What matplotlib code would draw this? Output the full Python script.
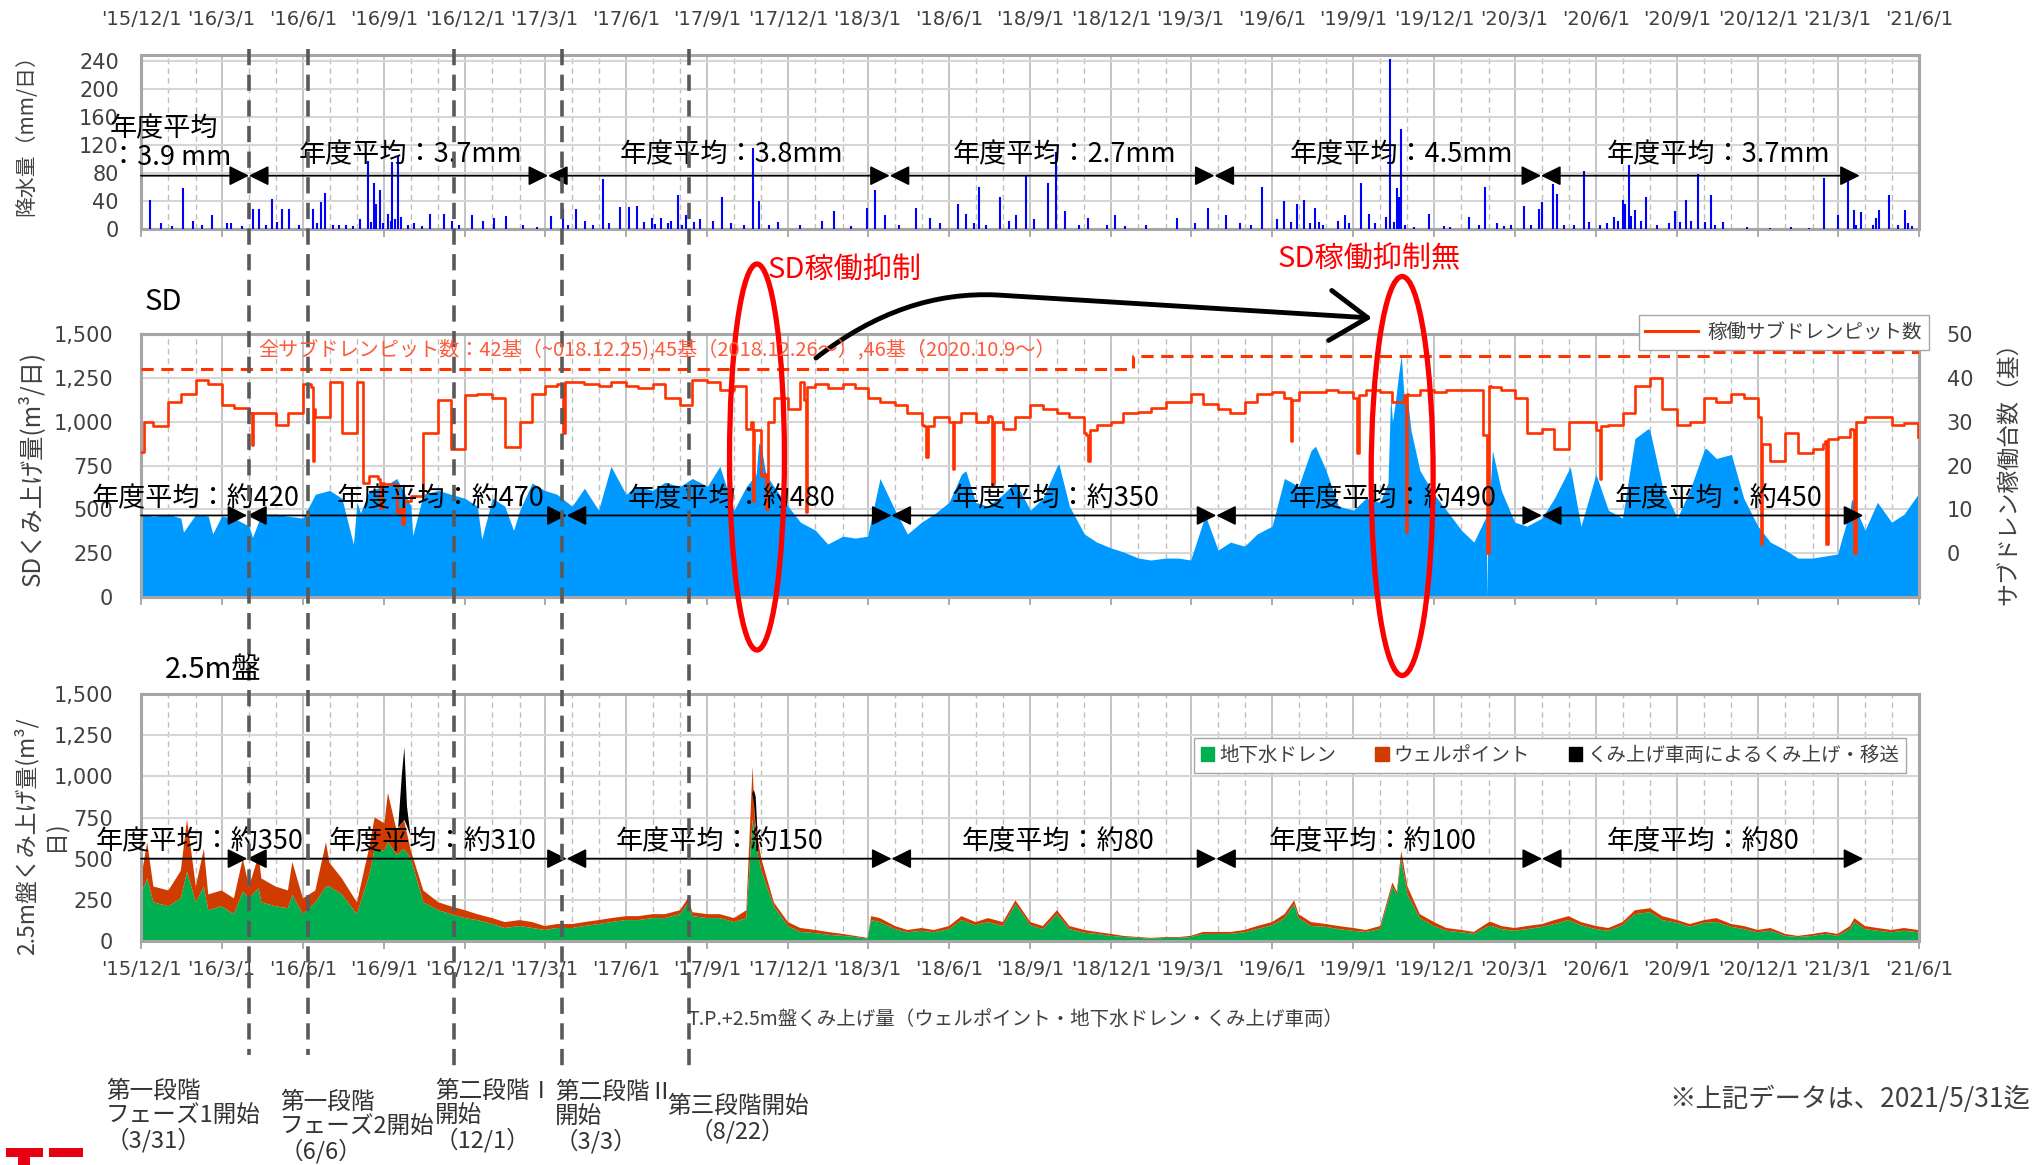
import numpy as np
import pandas as pd
import matplotlib
matplotlib.use("Agg")
import matplotlib.pyplot as plt
import matplotlib.dates as mdates
import matplotlib.transforms as mtransforms
from matplotlib.patches import Ellipse, FancyArrowPatch, Rectangle, Patch
from matplotlib.lines import Line2D
from matplotlib.path import Path
from matplotlib import font_manager

JP = ['Noto Sans CJK JP', 'DejaVu Sans']
plt.rcParams['font.family'] = JP
_names = {f.name for f in font_manager.fontManager.ttflist}
if 'Liberation Sans Narrow' in _names:
    NARROW = ['Liberation Sans Narrow', 'DejaVu Sans']; NSIZE = 19; YNSIZE = 20
else:
    NARROW = ['DejaVu Sans']; NSIZE = 14; YNSIZE = 15

# ============================ DATA ============================
X_START, X_END = '2015-12-01', '2021-06-01'
date_labels = ["'15/12/1", "'16/3/1", "'16/6/1", "'16/9/1", "'16/12/1", "'17/3/1",
               "'17/6/1", "'17/9/1", "'17/12/1", "'18/3/1", "'18/6/1", "'18/9/1",
               "'18/12/1", "'19/3/1", "'19/6/1", "'19/9/1", "'19/12/1", "'20/3/1",
               "'20/6/1", "'20/9/1", "'20/12/1", "'21/3/1", "'21/6/1"]
tick_dates = pd.date_range(X_START, X_END, freq='3MS')

# semi-monthly reading dates (1st and 15th) + last day of data
half = pd.date_range('2015-12-01', '2021-05-15', freq='SMS').append(
    pd.DatetimeIndex([pd.Timestamp('2021-05-31')]))

# ---- daily rainfall (mm/day), notable days ----
rain_dates = ['2015-12-11', '2015-12-24', '2016-01-05', '2016-01-17', '2016-01-29', '2016-02-08', '2016-02-19',
              '2016-03-07', '2016-03-12', '2016-03-24', '2016-04-06', '2016-04-12', '2016-04-20', '2016-04-27',
              '2016-05-03', '2016-05-08', '2016-05-16', '2016-05-27', '2016-06-12', '2016-06-17', '2016-06-21',
              '2016-06-26', '2016-07-05', '2016-07-12', '2016-07-20', '2016-07-28', '2016-08-05', '2016-08-13',
              '2016-08-17', '2016-08-20', '2016-08-23', '2016-08-27', '2016-08-31', '2016-09-05', '2016-09-08',
              '2016-09-10', '2016-09-13', '2016-09-16', '2016-09-20', '2016-09-28', '2016-10-04', '2016-10-13',
              '2016-10-23', '2016-11-07', '2016-11-16', '2016-11-24', '2016-12-09', '2016-12-21', '2017-01-03',
              '2017-01-16', '2017-02-05', '2017-02-20', '2017-03-08', '2017-03-22', '2017-03-27', '2017-04-06',
              '2017-04-16', '2017-04-25', '2017-05-06', '2017-05-13', '2017-05-25', '2017-06-04', '2017-06-14',
              '2017-06-21', '2017-06-30', '2017-07-04', '2017-07-10', '2017-07-18', '2017-07-22', '2017-07-30',
              '2017-08-03', '2017-08-08', '2017-08-17', '2017-08-24', '2017-09-07', '2017-09-18', '2017-09-28',
              '2017-10-12', '2017-10-22', '2017-10-29', '2017-11-10', '2017-11-20', '2017-12-15', '2018-01-08',
              '2018-01-22', '2018-02-10', '2018-02-28', '2018-03-09', '2018-03-21', '2018-04-05', '2018-04-25',
              '2018-05-10', '2018-05-22', '2018-06-11', '2018-06-20', '2018-06-29', '2018-07-05', '2018-07-13',
              '2018-07-29', '2018-08-08', '2018-08-16', '2018-08-27', '2018-09-05', '2018-09-21', '2018-09-30',
              '2018-10-10', '2018-10-26', '2018-11-05', '2018-11-26', '2018-12-05', '2018-12-17', '2019-01-10',
              '2019-02-14', '2019-03-06', '2019-03-21', '2019-04-10', '2019-04-26', '2019-05-08', '2019-05-21',
              '2019-06-07', '2019-06-15', '2019-06-22', '2019-06-29', '2019-07-07', '2019-07-14', '2019-07-19',
              '2019-07-24', '2019-07-29', '2019-08-15', '2019-08-22', '2019-08-27', '2019-09-10', '2019-09-18',
              '2019-09-25', '2019-10-08', '2019-10-12', '2019-10-17', '2019-10-20', '2019-10-23', '2019-10-25',
              '2019-10-29', '2019-11-08', '2019-11-25', '2019-12-12', '2019-12-19', '2020-01-09', '2020-01-21',
              '2020-01-28', '2020-02-10', '2020-02-18', '2020-02-26', '2020-03-12', '2020-03-20', '2020-03-29',
              '2020-04-01', '2020-04-13', '2020-04-18', '2020-04-26', '2020-05-07', '2020-05-19', '2020-05-24',
              '2020-06-05', '2020-06-14', '2020-06-21', '2020-06-26', '2020-07-01', '2020-07-04', '2020-07-08',
              '2020-07-11', '2020-07-15', '2020-07-22', '2020-07-27', '2020-08-09', '2020-08-22', '2020-08-29',
              '2020-09-04', '2020-09-11', '2020-09-16', '2020-09-24', '2020-10-02', '2020-10-09', '2020-10-14',
              '2020-10-23', '2020-11-19', '2020-12-15', '2021-01-07', '2021-01-28', '2021-02-14', '2021-03-01',
              '2021-03-13', '2021-03-19', '2021-03-22', '2021-03-27', '2021-04-10', '2021-04-13', '2021-04-17',
              '2021-04-28', '2021-05-08', '2021-05-16', '2021-05-20', '2021-05-24']
rain_mm = [42, 8, 4, 59, 12, 5, 20,
           8, 8, 4, 29, 29, 6, 43,
           10, 29, 29, 5, 28, 8, 39,
           52, 6, 6, 5, 4, 14, 97,
           10, 66, 36, 55, 8, 22, 12,
           95, 14, 104, 17, 6, 8, 4,
           22, 22, 12, 5, 20, 12, 15,
           18, 5, 3, 18, 28, 6, 28,
           12, 5, 71, 8, 32, 31, 33,
           10, 16, 7, 15, 9, 12, 48,
           6, 20, 10, 14, 12, 45, 8,
           6, 115, 40, 6, 10, 5, 12,
           25, 4, 30, 55, 20, 6, 30,
           15, 8, 35, 22, 8, 60, 6,
           45, 12, 20, 75, 14, 65, 110,
           25, 6, 15, 5, 20, 4, 5,
           15, 8, 30, 20, 8, 6, 60,
           14, 40, 10, 35, 41, 8, 30,
           10, 6, 12, 20, 8, 66, 22,
           8, 17, 242, 10, 58, 45, 142,
           6, 3, 22, 4, 3, 17, 6,
           60, 8, 4, 6, 33, 5, 28,
           39, 64, 50, 5, 6, 82, 10,
           6, 8, 17, 12, 41, 35, 91,
           18, 27, 12, 46, 5, 8, 26,
           10, 41, 12, 79, 10, 48, 6,
           10, 3, 2, 3, 2, 72, 20,
           82, 27, 6, 24, 5, 15, 27,
           48, 6, 27, 8, 4]

# ---- SD pumped volume (m3/day), semi-monthly readings ----
sd_base = [472, 461,   472, 450,   472, 461,   461, 450,   404, 472,   472, 461,   # Dec15-May16
           450, 586,   608, 563,   540, 608,   631, 676,   518, 586,   608, 586,   # Jun16-Nov16
           563, 518,   563, 518,   495, 650,   608, 586,   518, 620,   495, 745,   # Dec16-May17
           586, 631,   608, 654,   631, 676,   631, 745,   495, 630,   850, 631,   # Jun17-Nov17
           518, 427,   381, 302,   347, 336,   347, 676,   495, 359,   427, 472,   # Dec17-May18
           540, 700,   540, 518,   586, 654,   495, 563,   745, 518,   359, 313,   # Jun18-Nov18
           280, 257,   222, 211,   222, 222,   211, 427,   268, 313,   290, 359,   # Dec18-May19
           404, 676,   631, 835,   722, 518,   495, 563,   540, 1000,  1130, 722,  # Jun19-Nov19
           586, 495,   381, 313,   495, 608,   427, 404,   450, 563,   722, 404,   # Dec19-May20
           700, 495,   450, 904,   949, 631,   450, 608,   835, 790,   813, 563,   # Jun20-Nov20
           404, 313,   268, 222,   222, 234,   245, 495,   381, 540,   427, 472,   # Dec20-May21
           586]
sd_ex_dates = ['2016-01-18', '2016-02-20', '2016-04-05', '2016-07-28', '2016-08-05', '2016-10-03',
               '2016-12-20', '2017-01-25', '2017-10-26', '2017-10-29', '2017-11-06', '2018-06-20',
               '2018-10-03', '2019-03-18', '2019-07-20', '2019-10-10', '2019-10-13', '2019-10-18',
               '2019-10-22', '2019-10-25', '2019-10-28', '2019-11-05', '2020-01-29', '2020-01-30',
               '2020-01-31', '2020-02-05', '2020-05-03', '2020-07-30', '2020-10-03', '2021-03-17']
sd_ex_vals = [370, 360, 340, 300, 480, 350,
              330, 380, 700, 880, 700, 720,
              760, 460, 860, 650, 1150, 1100,
              1270, 1380, 1150, 950, 460, 0,
              460, 835, 740, 960, 850, 560]

# ---- operating sub-drain pits (count), semi-monthly readings ----
pit_base = [23, 29,   34.6, 36.4, 39.5, 38.6, 33.7, 33.2, 31.9, 31.9, 29.2, 31.9,   # Dec15-May16
            38.6, 31, 39.1, 27.4, 39.1, 17.5, 15.7, 9.4, 13, 27.4, 35, 23.8,       # Jun16-Nov16
            36, 36.4, 35.5, 24.2, 30, 36.4, 38.2, 38.6, 39, 38.6, 38.2, 39,        # Dec16-May17
            38.2, 37.7, 38.6, 35.5, 33.7, 39.5, 39, 37.3, 38.2, 28.3, 17.5, 35.5,  # Jun17-Nov17
            32.8, 39, 38.6, 37.7, 38.6, 37.7, 35.5, 34.6, 33.7, 31.9, 29.2, 31,    # Dec17-May18
            30, 31.9, 30, 31.4, 28.3, 31, 33.7, 32.8, 31.9, 31, 27.4, 29.2,        # Jun18-Nov18
            30, 31.9, 32.3, 33.2, 34.6, 34.6, 36.4, 34.1, 32.8, 31.9, 34.6, 36.4,  # Dec18-May19
            36.8, 35.5, 36.8, 36.8, 37.3, 36.8, 35.5, 37.3, 36.8, 34.6, 36.4, 37.3,  # Jun19-Nov19
            36.8, 37.3, 37.3, 37.3, 38.2, 37.3, 35.5, 27.4, 28.3, 23.8, 30, 30,    # Dec19-May20
            28, 29.2, 31.9, 38.2, 40, 32.8, 29.2, 30, 35.5, 34.6, 36.4, 35.5,      # Jun20-Nov20
            31, 21, 27.4, 22.9, 23.8, 25.6, 26.5, 28.3, 31, 31, 29.2, 29.7,        # Dec20-May21
            26.5]
pit_ex_dates = ['2015-12-04', '2016-04-03', '2016-04-04', '2016-04-06', '2016-06-10', '2016-06-12',
                '2016-06-13', '2016-08-04', '2016-08-08', '2016-08-25', '2016-08-27', '2016-08-29',
                '2016-09-19', '2016-09-21', '2016-09-23', '2017-03-20', '2017-03-22', '2017-03-24',
                '2017-10-20', '2017-10-22', '2017-10-24', '2017-11-04', '2017-11-06', '2017-11-08',
                '2017-12-19', '2017-12-21', '2017-12-23', '2018-05-04', '2018-05-06', '2018-05-08',
                '2018-06-03', '2018-06-05', '2018-06-07', '2018-07-18', '2018-07-20', '2018-07-22',
                '2018-11-03', '2018-11-05', '2018-11-07', '2019-06-20', '2019-06-22', '2019-06-24',
                '2019-09-03', '2019-09-05', '2019-09-07', '2019-10-28', '2019-10-30', '2019-11-02',
                '2020-01-25', '2020-01-30', '2020-02-03', '2020-06-03', '2020-06-05', '2020-06-07',
                '2020-12-02', '2020-12-04', '2020-12-06', '2021-02-13', '2021-02-16', '2021-02-18',
                '2021-03-18', '2021-03-20', '2021-03-22']
pit_ex_vals = [30, 32, 24.7, 32, 38, 21,
               33, 39, 16, 17, 10.3, 16,
               10, 6.7, 12, 38.6, 27.4, 39,
               30, 12, 28, 18, 10, 30,
               35, 9.4, 38, 29, 22, 29,
               30, 19.3, 30, 31, 15.7, 30,
               27, 21, 28, 35.5, 25.6, 35,
               35.5, 22.9, 36, 36, 4.9, 36,
               27, 0, 38, 28, 17, 29,
               31, 2.2, 25, 25, 2.2, 26,
               28, 0, 30]
pit_total_dates = ['2015-12-01', '2018-12-26', '2020-10-09', '2021-06-01']
pit_total = [42, 45, 46, 46]

# ---- T.P.+2.5m pumping (m3/day), semi-monthly readings ----
drain_base = [283, 235, 211, 259, 235, 187, 211, 163, 259, 235, 211, 199,   # Dec15-May16
              163, 235, 331, 283, 163, 403, 547, 523, 499, 235, 187, 163,   # Jun16-Nov16
              139, 127, 103, 79, 91, 79, 67, 79, 79, 91, 103, 115,          # Dec16-May17
              127, 127, 139, 139, 163, 151, 139, 139, 115, 139, 427, 211,   # Jun17-Nov17
              91, 55, 48, 38, 31, 24, 14, 115, 72, 53, 62, 53,              # Dec17-May18
              72, 127, 96, 115, 91, 223, 96, 72, 163, 72, 50, 43,           # Jun18-Nov18
              31, 24, 19, 14, 19, 19, 24, 43, 43, 43, 53, 72,               # Dec18-May19
              96, 139, 139, 91, 86, 72, 62, 55, 72, 331, 283, 139,          # Jun19-Nov19
              91, 62, 53, 43, 91, 72, 62, 72, 86, 103, 127, 96,             # Dec19-May20
              72, 62, 96, 163, 175, 127, 110, 86, 110, 115, 86, 72,         # Jun20-Nov20
              53, 62, 31, 24, 31, 43, 31, 72, 72, 62, 53, 62,               # Dec20-May21
              53]
well_base = [97, 96, 96, 168, 96, 96, 96, 96, 72, 145, 120, 108,          # Dec15-May16
             96, 72, 144, 97, 72, 168, 168, 144, 48, 72, 48, 48,          # Jun16-Nov16
             48, 36, 36, 36, 36, 36, 24, 24, 24, 24, 24, 24,              # Dec16-May17
             24, 24, 24, 24, 24, 24, 24, 24, 24, 48, 72, 24,              # Jun17-Nov17
             24, 24, 19, 17, 12, 7, 5, 24, 19, 14, 17, 14,                # Dec17-May18
             19, 24, 19, 24, 24, 24, 19, 19, 24, 19, 17, 12,              # Jun18-Nov18
             12, 7, 5, 5, 5, 5, 7, 12, 12, 12, 14, 19,                    # Dec18-May19
             19, 24, 24, 24, 17, 19, 17, 12, 19, 24, 48, 24,              # Jun19-Nov19
             24, 17, 14, 12, 24, 19, 17, 19, 17, 24, 24, 19,              # Dec19-May20
             19, 17, 19, 24, 24, 24, 17, 17, 17, 24, 17, 19,              # Jun20-Nov20
             14, 17, 12, 7, 12, 12, 12, 19, 19, 17, 14, 17,               # Dec20-May21
             14]
bot_ex_dates = ['2015-12-08', '2016-01-22', '2016-02-10', '2016-03-25', '2016-04-12', '2016-05-20',
                '2016-06-27', '2016-08-21', '2016-09-05', '2016-09-23', '2017-08-10', '2017-10-22',
                '2017-10-25', '2018-03-05', '2019-06-26', '2019-10-20', '2019-10-25', '2020-02-04',
                '2021-03-20']
drain_ex = [380, 420, 330, 300, 320, 280,
            330, 560, 600, 560, 230, 740,
            600, 127, 223, 280, 499, 91,
            115]
well_ex = [220, 320, 230, 200, 200, 200,
           270, 190, 300, 180, 30, 320,
           100, 24, 24, 20, 48, 24,
           24]
truck_dates = ['2016-09-16', '2016-09-20', '2016-09-23', '2016-09-26', '2016-09-30',
               '2017-10-21', '2017-10-23', '2017-10-25', '2017-10-28']
truck_low = [690, 720, 740, 700, 640, 900, 840, 700, 560]
truck_high = [690, 1000, 1180, 820, 640, 900, 920, 880, 560]

# ---- fiscal-year averages ----
rain_fy_bounds = ['2016-04-01', '2017-03-05', '2018-03-26', '2019-03-28', '2020-03-31', '2021-03-26']
rain_avg_dates = ['2016-10-01', '2017-09-28', '2018-10-09', '2019-10-25', '2020-10-17']
rain_avg_labels = ['年度平均：3.7mm', '年度平均：3.8mm', '年度平均：2.7mm', '年度平均：4.5mm', '年度平均：3.7mm']
rain_first_label = '年度平均\n：3.9 mm'
sd_fy_bounds = ['2016-03-30', '2017-03-26', '2018-03-28', '2019-03-30', '2020-04-01', '2021-03-30']
sd_avg_dates = ['2016-02-01', '2016-11-03', '2017-09-28', '2018-09-30', '2019-10-15', '2020-10-17']
sd_avg_labels = ['年度平均：約420', '年度平均：約470', '年度平均：約480', '年度平均：約350',
                 '年度平均：約490', '年度平均：約450']
bot_fy_bounds = ['2016-03-30', '2017-03-26', '2018-03-28', '2019-03-30', '2020-04-01', '2021-03-30']
bot_avg_dates = ['2016-02-05', '2016-10-25', '2017-09-15', '2018-10-02', '2019-09-23', '2020-09-30']
bot_avg_labels = ['年度平均：約350', '年度平均：約310', '年度平均：約150', '年度平均：約80',
                  '年度平均：約100', '年度平均：約80']

# ---- milestones (drawn positions) ----
event_dates = ['2016-04-01', '2016-06-07', '2016-11-19', '2017-03-21', '2017-08-11']
event_labels = ['第一段階\nフェーズ1開始\n（3/31）', '第一段階\nフェーズ2開始\n（6/6）',
                '第二段階Ⅰ\n開始\n（12/1）', '第二段階Ⅱ\n開始\n（3/3）', '第三段階開始\n（8/22）']

# ============================ HELPERS ============================
def merged(base, ex_dates, ex_vals):
    s = pd.concat([pd.Series(base, index=half, dtype=float),
                   pd.Series(ex_vals, index=pd.to_datetime(ex_dates), dtype=float)]).sort_index()
    return s[~s.index.duplicated(keep='last')]

def D(s):
    return mdates.date2num(pd.Timestamp(s))

W, H = 2040, 1165
def box(l, t, r, b):
    return [l / W, 1 - b / H, (r - l) / W, (b - t) / H]

GRAY_TXT = '#404040'
SPINE = '#A6A6A6'

def style(ax, ylim, yticks, ylabels, yfont, yfsize):
    ax.set_xlim(pd.Timestamp(X_START), pd.Timestamp(X_END))
    ax.set_ylim(*ylim)
    ax.set_xticks(tick_dates)
    ax.xaxis.set_minor_locator(mdates.MonthLocator())
    ax.set_yticks(yticks)
    ax.set_yticklabels(ylabels, family=yfont, fontsize=yfsize, color=GRAY_TXT)
    ax.grid(which='major', axis='x', color='#BFBFBF', lw=1.3)
    ax.grid(which='minor', axis='x', color='#BFBFBF', lw=1.0, ls=(0, (4, 3)))
    ax.grid(which='major', axis='y', color='#D6D6D6', lw=1.5)
    ax.set_axisbelow(True)
    for sp in ax.spines.values():
        sp.set_color(SPINE)
        sp.set_linewidth(2.2)
    ax.tick_params(which='minor', length=0)
    ax.tick_params(axis='y', length=0, pad=20)
    ax.tick_params(axis='x', which='major', length=6, color=SPINE, width=1.3)

# ============================ FIGURE ============================
fig = plt.figure(figsize=(W / 100, H / 100), dpi=100)
fig.patch.set_facecolor('white')

ax_top = fig.add_axes(box(141, 55, 1919, 229))
ax_mid = fig.add_axes(box(141, 334, 1919, 597))
ax_bot = fig.add_axes(box(141, 694, 1919, 941))

# ---- rainfall ----
ax_top.vlines(pd.to_datetime(rain_dates), 0, rain_mm, color='#0000FF', lw=1.5, zorder=3)
style(ax_top, (0, 248), [0, 40, 80, 120, 160, 200, 240],
      ['0', '40', '80', '120', '160', '200', '240'], NARROW, YNSIZE)
ax_top.tick_params(axis='y', pad=16)
ax_top.tick_params(axis='x', which='major', labeltop=True, labelbottom=False, pad=13)
ax_top.set_xticklabels(date_labels, family=NARROW, fontsize=NSIZE, color=GRAY_TXT)

# ---- SD ----
sd = merged(sd_base, sd_ex_dates, sd_ex_vals)
ax_mid.fill_between(sd.index, 0, sd.values, color='#0099FF', lw=0, zorder=2)
style(ax_mid, (0, 1500), [0, 250, 500, 750, 1000, 1250, 1500],
      ['0', '250', '500', '750', '1,000', '1,250', '1,500'], ['DejaVu Sans'], 15)
ax_mid.tick_params(axis='x', labelbottom=False)

ax_r = ax_mid.twinx()
pit = merged(pit_base, pit_ex_dates, pit_ex_vals)
ax_r.plot(pit.index, pit.values, color='#FF3300', lw=1.9, zorder=3, drawstyle='steps-post')
ax_r.step(pd.to_datetime(pit_total_dates), pit_total, where='post', color='#FF3300',
          lw=2.2, ls=(0, (4, 2.5)), zorder=3)
ax_r.set_xlim(pd.Timestamp(X_START), pd.Timestamp(X_END))
ax_r.set_ylim(-10, 50)
ax_r.set_yticks([0, 10, 20, 30, 40, 50])
ax_r.set_yticklabels(['0', '10', '20', '30', '40', '50'], family=['DejaVu Sans'], fontsize=15,
                     color=GRAY_TXT)
ax_r.tick_params(axis='y', length=0, pad=20)
for sp in ax_r.spines.values():
    sp.set_color(SPINE)
    sp.set_linewidth(2.2)

# ---- 2.5m ----
drain = merged(drain_base, bot_ex_dates, drain_ex)
well = merged(well_base, bot_ex_dates, well_ex)
ax_bot.stackplot(drain.index, drain.values, well.values, colors=['#00B050', '#D03C00'], lw=0, zorder=2)
ax_bot.fill_between(pd.to_datetime(truck_dates), truck_low, truck_high, color='black', lw=0, zorder=2)
style(ax_bot, (0, 1500), [0, 250, 500, 750, 1000, 1250, 1500],
      ['0', '250', '500', '750', '1,000', '1,250', '1,500'], ['DejaVu Sans'], 15)
ax_bot.set_xticklabels(date_labels, family=NARROW, fontsize=NSIZE, color=GRAY_TXT)
ax_bot.tick_params(axis='x', which='major', pad=8)

# ---- fiscal average arrows & labels ----
ARW = dict(color='black', lw=1.3, shrinkA=0, shrinkB=0, mutation_scale=20)

def fy_arrows(ax, bounds, y, trans=None):
    pts = [D(X_START)] + [D(b) for b in bounds]
    for i in range(len(pts) - 1):
        style_ = '-|>,head_length=0.6,head_width=0.3' if i == 0 else '<|-|>,head_length=0.6,head_width=0.3'
        ax.annotate('', xy=(pts[i + 1], y), xytext=(pts[i], y),
                    xycoords=trans or 'data', textcoords=trans or 'data',
                    arrowprops=dict(arrowstyle=style_, **ARW), zorder=6)

fy_arrows(ax_top, rain_fy_bounds, 76)
for d, t in zip(rain_avg_dates, rain_avg_labels):
    ax_top.text(D(d), 106, t, ha='center', va='center', fontsize=19.5, color='black', zorder=6)

fy_arrows(ax_r, sd_fy_bounds, 465, trans=ax_mid.transData)
for d, t in zip(sd_avg_dates, sd_avg_labels):
    ax_r.text(D(d), 560, t, ha='center', va='center', fontsize=19.5, color='black', zorder=6,
              transform=ax_mid.transData)

fy_arrows(ax_bot, bot_fy_bounds, 500)
for d, t in zip(bot_avg_dates, bot_avg_labels):
    ax_bot.text(D(d), 600, t, ha='center', va='center', fontsize=19.5, color='black', zorder=6)

# ---- legends ----
fig.legend([Line2D([], [], color='#FF3300', lw=2.2)], ['稼働サブドレンピット数'],
           loc='upper right', bbox_to_anchor=(1929 / W, 1 - 315 / H), frameon=True, fancybox=False,
           edgecolor=SPINE, framealpha=1, fontsize=14, handlelength=2.7, borderpad=0.35,
           handletextpad=0.5, borderaxespad=0, labelcolor=GRAY_TXT)
fig.legend([Patch(color='#00B050'), Patch(color='#D03C00'), Patch(color='black')],
           ['地下水ドレン', 'ウェルポイント', 'くみ上げ車両によるくみ上げ・移送'],
           loc='upper right', bbox_to_anchor=(1906 / W, 1 - 738 / H), ncol=3, frameon=True,
           fancybox=False, edgecolor=SPINE, framealpha=1, fontsize=14, handlelength=0.7,
           handleheight=0.7, handletextpad=0.25, columnspacing=2.0, borderpad=0.35,
           borderaxespad=0, labelcolor=GRAY_TXT)

# ---- axis titles ----
fig.text(26 / W, 1 - 130 / H, '降水量（mm/日）', rotation=90, ha='center', va='center',
         fontsize=15, color=GRAY_TXT)
fig.text(31 / W, 1 - 468 / H, 'SDくみ上げ量(m³/日)', rotation=90, ha='center', va='center',
         fontsize=17.5, color=GRAY_TXT)
fig.text(40 / W, 1 - 836 / H, '2.5m盤くみ上げ量(m³/\n日)', rotation=90, ha='center', va='center',
         multialignment='center', fontsize=16.5, color=GRAY_TXT, linespacing=1.25)
fig.text(2010 / W, 1 - 468 / H, 'サブドレン稼働台数（基）', rotation=90, ha='center', va='center',
         fontsize=16.5, color=GRAY_TXT)

# ---- overlay (pixel coordinates) ----
ov = fig.add_axes([0, 0, 1, 1], zorder=10)
ov.set_xlim(0, W)
ov.set_ylim(H, 0)
ov.axis('off')
ov.patch.set_alpha(0)

ov.text(110, 143, rain_first_label, ha='left', va='center', fontsize=19.5, linespacing=1.1)
ov.text(163, 302, 'SD', ha='center', va='center', fontsize=21)
ov.text(213, 670, '2.5m盤', ha='center', va='center', fontsize=21)
ov.text(258, 351, '全サブドレンピット数：42基（~018.12.25),45基（2018.12.26～）,46基（2020.10.9～）',
        ha='left', va='center', fontsize=14.5, color='#FF5A3C')
ov.text(768, 271, 'SD稼働抑制', ha='left', va='center', fontsize=21, color='#FF0000')
ov.text(1278, 259, 'SD稼働抑制無', ha='left', va='center', fontsize=21, color='#FF0000')
ov.text(687, 1019, 'T.P.+2.5m盤くみ上げ量（ウェルポイント・地下水ドレン・くみ上げ車両）',
        ha='left', va='center', fontsize=14, color=GRAY_TXT)
ov.text(2030, 1099, '※上記データは、2021/5/31迄', ha='right', va='center', fontsize=19,
        color=GRAY_TXT)

ev_x = [106, 280, 435, 555, 667]
ev_y = [1116, 1127, 1116, 1117, 1119]
for i, (x, y, t) in enumerate(zip(ev_x, ev_y, event_labels)):
    ov.text(x, y, t, ha='left', va='center', fontsize=17, color='#333333', linespacing=1.05,
            multialignment='center' if i == 4 else 'left')

# curved black arrow
verts = [(816, 358), (875, 312), (935, 292), (997, 295), (1372, 318)]
codes = [Path.MOVETO, Path.CURVE4, Path.CURVE4, Path.CURVE4, Path.LINETO]
ov.add_patch(FancyArrowPatch(path=Path(verts, codes), arrowstyle='->,head_length=0.9,head_width=0.6',
                             mutation_scale=30, lw=3.5, color='black'))

# logo pieces
ov.add_patch(Rectangle((6, 1148), 37, 9, color='#E60012', lw=0))
ov.add_patch(Rectangle((18, 1157), 12, 8, color='#E60012', lw=0))
ov.add_patch(Rectangle((49, 1148), 34, 9, color='#E60012', lw=0))

# milestone dashed lines and ellipses (x in dates)
trans = mtransforms.blended_transform_factory(ax_mid.transData, fig.transFigure)
ev_bottom = [1055, 1055, 1068, 1068, 1068]
for d, yb in zip(event_dates, ev_bottom):
    fig.add_artist(Line2D([D(d), D(d)], [1 - 49 / H, 1 - yb / H], transform=trans,
                          color='#595959', lw=2.6, dashes=(4.5, 2.6), zorder=8))

fig.add_artist(Ellipse((D('2017-10-27'), 1 - 457 / H), 62, 386 / H, transform=trans,
                       fill=False, ec='#FF0000', lw=3.8, zorder=9))
fig.add_artist(Ellipse((D('2019-10-26'), 1 - 476 / H), 70, 399 / H, transform=trans,
                       fill=False, ec='#FF0000', lw=3.8, zorder=9))

fig.savefig('out.png', dpi=100, facecolor='white')
